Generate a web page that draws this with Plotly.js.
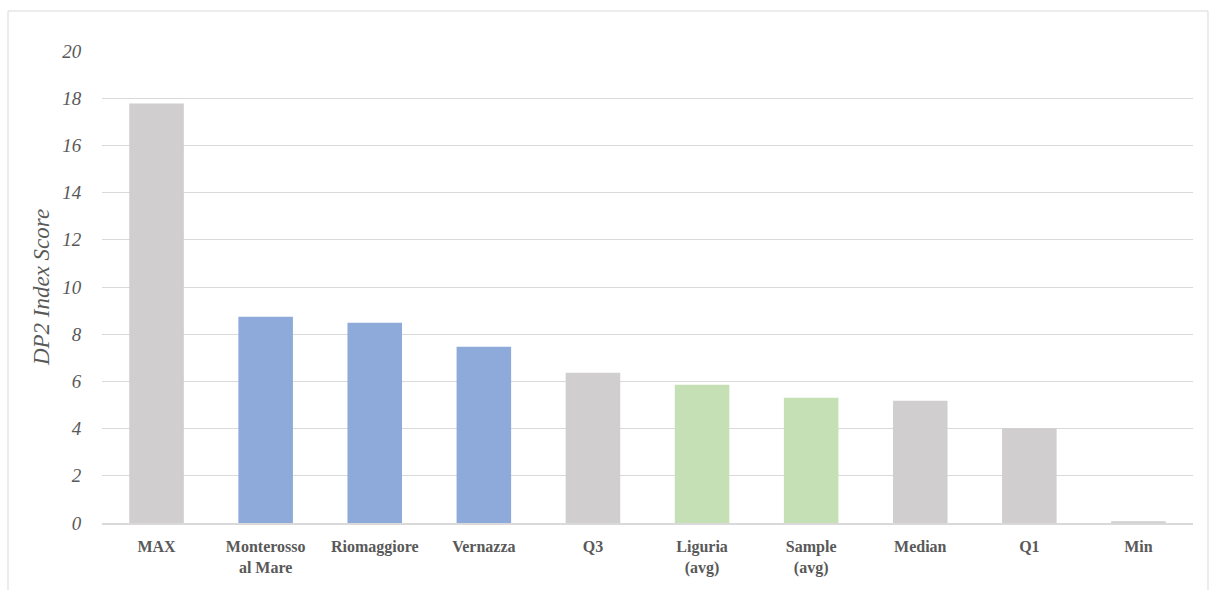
<!DOCTYPE html>
<html>
<head>
<meta charset="utf-8">
<script src="https://cdn.plot.ly/plotly-3.0.1.min.js"></script>
<style>
  html, body { margin: 0; padding: 0; background: #fff; }
  #chart { width: 1209px; height: 590px; }
</style>
</head>
<body>
<div id="chart"></div>
<script>
const categories = ["MAX", "Monterosso<br>al Mare", "Riomaggiore", "Vernazza", "Q3", "Liguria<br>(avg)", "Sample<br>(avg)", "Median", "Q1", "Min"];
const values = [17.78, 8.74, 8.49, 7.47, 6.37, 5.86, 5.31, 5.18, 4.01, 0.07];
const barColors = ["#D0CECE", "#8EAADB", "#8EAADB", "#8EAADB", "#D0CECE", "#C5E0B4", "#C5E0B4", "#D0CECE", "#D0CECE", "#D0CECE"];
const yTickVals = [0, 2, 4, 6, 8, 10, 12, 14, 16, 18, 20];

const FONT = "Liberation Serif";
const plotLeft = 102, plotRight = 1193, plotTop = 51, plotBottom = 523;
const W = 1209, H = 590;
const pw = plotRight - plotLeft, ph = plotBottom - plotTop;

Plotly.newPlot("chart", [{
  type: "bar",
  x: categories,
  y: values,
  marker: { color: barColors, line: { width: 0 } },
  hoverinfo: "x+y"
}], {
  width: W, height: H,
  margin: { l: plotLeft, r: W - plotRight, t: plotTop, b: H - plotBottom, autoexpand: false },
  paper_bgcolor: "#ffffff",
  plot_bgcolor: "#ffffff",
  bargap: 0.5,
  showlegend: false,
  font: { family: FONT, color: "#595959" },
  xaxis: {
    type: "category",
    showgrid: false,
    showline: true,
    linecolor: "#D9D9D9",
    linewidth: 2,
    ticks: "outside",
    ticklen: 8,
    tickcolor: "rgba(0,0,0,0)",
    tickfont: { family: FONT, size: 16, color: "#595959", weight: "bold" },
    fixedrange: true
  },
  yaxis: {
    range: [0, 20],
    tickvals: yTickVals,
    ticktext: yTickVals.map(String),
    showgrid: true,
    gridcolor: "#D9D9D9",
    gridwidth: 1,
    zeroline: false,
    showline: false,
    ticks: "outside",
    ticklen: 16,
    tickcolor: "rgba(0,0,0,0)",
    tickfont: { family: FONT, size: 19, color: "#595959", style: "italic" },
    title: { text: "DP2 Index Score", font: { family: FONT, size: 23, color: "#595959", style: "italic" }, standoff: 6 },
    automargin: false,
    fixedrange: true
  },
  shapes: [{
    type: "rect", xref: "paper", yref: "paper",
    x0: (8 - plotLeft) / pw, x1: (1208 - plotLeft) / pw,
    y0: (plotBottom - 600) / ph, y1: (plotBottom - 11) / ph,
    line: { color: "#D9D9D9", width: 1 }, fillcolor: "rgba(0,0,0,0)", layer: "below"
  }]
}, { displayModeBar: false, staticPlot: true });
</script>
</body>
</html>
